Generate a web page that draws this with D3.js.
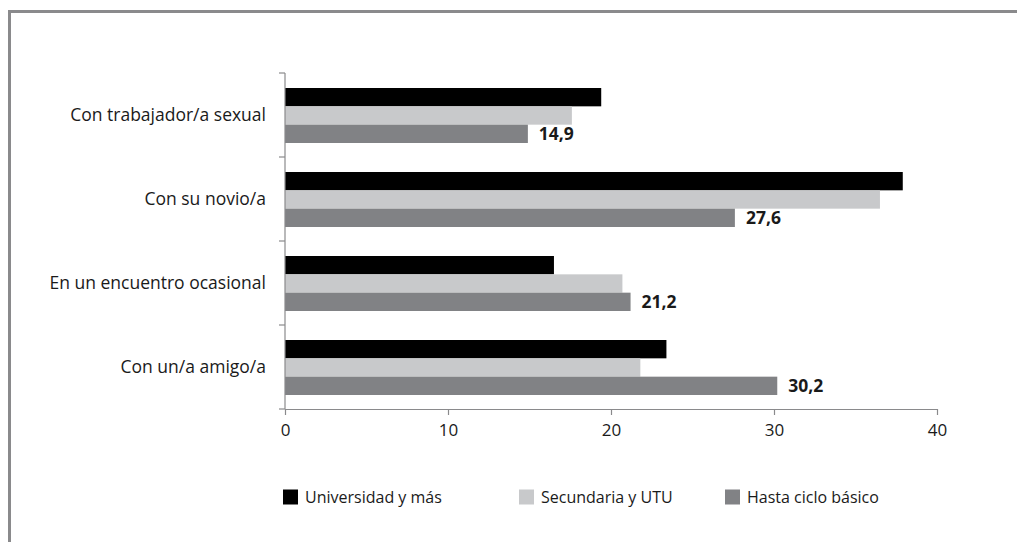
<!DOCTYPE html>
<html><head><meta charset="utf-8">
<script src="https://cdn.jsdelivr.net/npm/d3@7/dist/d3.min.js"></script>
<style>body{margin:0;background:#fff}svg{display:block}</style>
</head><body>
<svg id="c" width="1017" height="542"></svg>
<script>
const categories = ["Con trabajador/a sexual","Con su novio/a","En un encuentro ocasional","Con un/a amigo/a"];
const seriesNames = ["Universidad y más","Secundaria y UTU","Hasta ciclo básico"];
const universidad = [19.4, 37.9, 16.5, 23.4];
const secundaria  = [17.6, 36.5, 20.7, 21.8];
const hasta       = [14.9, 27.6, 21.2, 30.2];
const hastaLabels = ["14,9","27,6","21,2","30,2"];
const xTicks = [0,10,20,30,40];
const colors = ["#000000","#c8c9cb","#818285"];

const svg = d3.select("#c");
const font = "'Open Sans', sans-serif";
// frame
svg.append("path").attr("d","M9.5,542 V11.5 H1017").attr("fill","none").attr("stroke","#8a8a8c").attr("stroke-width",3);

const x = d3.scaleLinear().domain([0,40]).range([285,937]);
const y = d3.scaleBand().domain(categories).range([73,409]);
const inner = d3.scaleBand().domain(seriesNames).range([15, 70]);

const series = [universidad, secundaria, hasta];
const g = svg.append("g");
series.forEach((vals, si) => {
  g.selectAll(null).data(categories).enter().append("rect")
    .attr("x", x(0)).attr("y", c => y(c) + inner(seriesNames[si]))
    .attr("width", (c,i) => x(vals[i]) - x(0))
    .attr("height", inner.bandwidth())
    .attr("fill", colors[si]);
});
// value labels
g.selectAll(null).data(categories).enter().append("text")
  .attr("x", (c,i) => x(hasta[i]) + 11)
  .attr("y", c => y(c) + inner(seriesNames[2]) + inner.bandwidth()/2)
  .attr("dy","0.36em").attr("font-family",font).attr("font-size",17.5).attr("font-weight","bold")
  .attr("fill","#1a1a1a").text((c,i) => hastaLabels[i]);

// y axis
const yAxis = svg.append("g").attr("transform","translate(285,0)");
yAxis.append("line").attr("y1",73).attr("y2",409).attr("stroke","#8a8a8c").attr("stroke-width",1.2);
const yTickPos = categories.map(c => y(c)).concat([409]);
yAxis.selectAll(null).data(yTickPos).enter().append("line")
  .attr("x1",-6).attr("x2",0).attr("y1",d=>d).attr("y2",d=>d).attr("stroke","#8a8a8c").attr("stroke-width",1.2);
svg.selectAll(null).data(categories).enter().append("text")
  .attr("x",266).attr("y",c => y(c) + y.bandwidth()/2).attr("dy","0.36em")
  .attr("text-anchor","end").attr("font-family",font).attr("font-size",17.5).attr("fill","#1a1a1a")
  .text(c=>c);

// x axis
const xAxis = svg.append("g").attr("transform","translate(0,409)")
  .call(d3.axisBottom(x).tickValues(xTicks).tickSize(6).tickPadding(9).tickFormat(d3.format("d")));
xAxis.select(".domain").attr("stroke","#8a8a8c").attr("stroke-width",1.2).attr("d","M285,0.5H937");
xAxis.selectAll(".tick line").attr("stroke","#8a8a8c").attr("stroke-width",1.2);
xAxis.selectAll(".tick text").attr("font-family",font).attr("font-size",17).attr("fill","#1a1a1a");

// legend
const legX = [283, 519, 725];
const leg = svg.selectAll(null).data(seriesNames).enter().append("g")
  .attr("transform",(d,i)=>`translate(${legX[i]},497)`);
leg.append("rect").attr("x",0).attr("y",-7.5).attr("width",15).attr("height",15).attr("fill",(d,i)=>colors[i]);
leg.append("text").attr("x",22).attr("y",0).attr("dy","0.36em").attr("font-family",font).attr("font-size",16)
  .attr("fill","#1a1a1a").text(d=>d);
</script>
</body></html>
